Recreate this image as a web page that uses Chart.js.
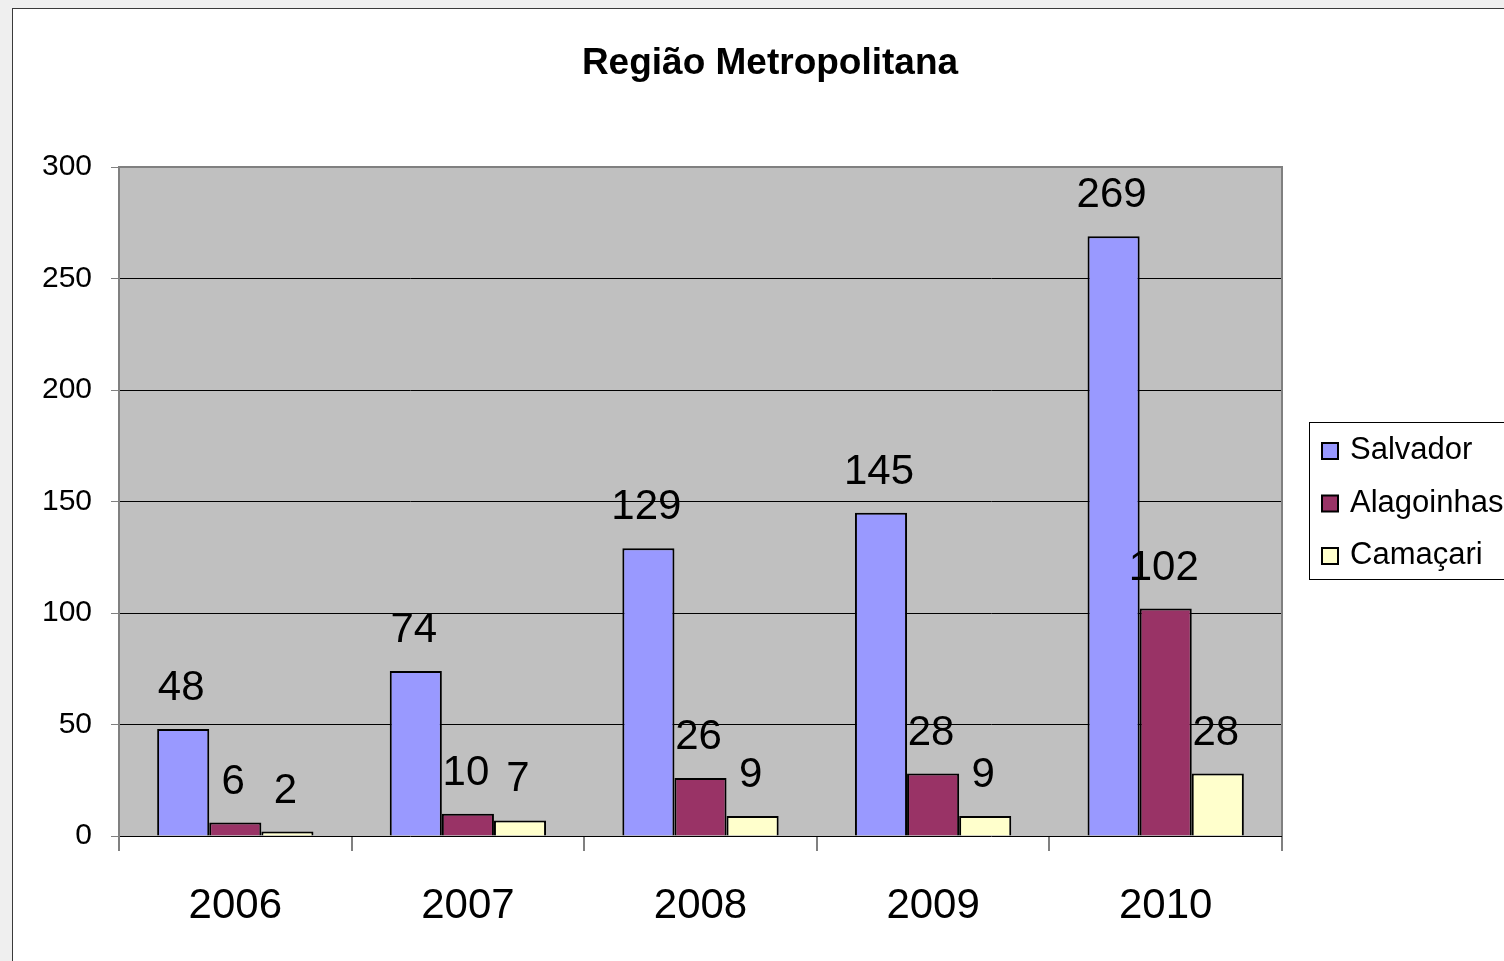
<!DOCTYPE html>
<html>
<head>
<meta charset="utf-8">
<script src="https://cdn.jsdelivr.net/npm/chart.js@4.4.1/dist/chart.umd.min.js"></script>
<style>
  html, body { margin:0; padding:0; width:1504px; height:961px; overflow:hidden; background:#efefef; }
  #frame { position:absolute; left:12px; top:8px; width:1600px; height:1000px; border:1px solid #3a3a3a; background:#ffffff; }
  #wrap { position:absolute; left:0; top:0; width:1540px; height:961px; }
</style>
</head>
<body>
<div id="frame"></div>
<div id="wrap"><canvas id="c" width="1540" height="961"></canvas></div>
<script>
const categories = ['2006', '2007', '2008', '2009', '2010'];
const seriesNames = ['Salvador', 'Alagoinhas', 'Camaçari'];
const salvador = [48, 74, 129, 145, 269];
const alagoinhas = [6, 10, 26, 28, 102];
const camacari = [2, 7, 9, 9, 28];
const yTicks = [0, 50, 100, 150, 200, 250, 300];
const titleText = 'Região Metropolitana';

const colors = ['#9999FF', '#993366', '#FFFFCC'];
const FONT = "'Liberation Sans', Arial, sans-serif";

const plotBg = {
  id: 'plotBg',
  beforeDraw(chart) {
    const a = chart.chartArea, ctx = chart.ctx;
    ctx.save();
    ctx.fillStyle = '#C0C0C0';
    ctx.fillRect(a.left, a.top, a.right - a.left, a.bottom - a.top);
    ctx.restore();
  },
  afterDraw(chart) {
    const a = chart.chartArea, ctx = chart.ctx;
    ctx.save();
    ctx.strokeStyle = '#808080';
    ctx.lineWidth = 2;
    ctx.beginPath();
    ctx.moveTo(a.left, a.top); ctx.lineTo(a.right, a.top); ctx.lineTo(a.right, a.bottom);
    ctx.stroke();
    ctx.restore();
  }
};

const valueLabels = {
  id: 'valueLabels',
  afterDatasetsDraw(chart) {
    const ctx = chart.ctx;
    ctx.save();
    ctx.font = '42px ' + FONT;
    ctx.fillStyle = '#000';
    ctx.textAlign = 'center';
    ctx.textBaseline = 'alphabetic';
    chart.data.datasets.forEach((ds, i) => {
      chart.getDatasetMeta(i).data.forEach((bar, j) => {
        ctx.fillText(String(ds.data[j]), bar.x - 2, bar.y - 29);
      });
    });
    ctx.restore();
  }
};

const boxLegend = {
  id: 'boxLegend',
  afterDraw(chart) {
    const ctx = chart.ctx;
    ctx.save();
    ctx.fillStyle = '#ffffff';
    ctx.fillRect(1309, 422, 260, 157);
    ctx.strokeStyle = '#000';
    ctx.lineWidth = 1;
    ctx.strokeRect(1309.5, 422.5, 260, 157);
    ctx.font = '31px ' + FONT;
    ctx.textAlign = 'left';
    ctx.textBaseline = 'alphabetic';
    chart.data.datasets.forEach((ds, i) => {
      const cy = 451 + i * 52.5;
      ctx.fillStyle = ds.backgroundColor;
      ctx.fillRect(1322, cy - 8, 16, 16);
      ctx.strokeStyle = '#000';
      ctx.lineWidth = 2;
      ctx.strokeRect(1322, cy - 8, 16, 16);
      ctx.fillStyle = '#000';
      ctx.fillText(ds.label, 1350, cy + 8);
    });
    ctx.restore();
  }
};

new Chart(document.getElementById('c'), {
  type: 'bar',
  data: {
    labels: categories,
    datasets: [
      { label: seriesNames[0], data: salvador, backgroundColor: colors[0] },
      { label: seriesNames[1], data: alagoinhas, backgroundColor: colors[1] },
      { label: seriesNames[2], data: camacari, backgroundColor: colors[2] }
    ].map(d => Object.assign(d, { borderColor: '#000', borderWidth: 2, borderSkipped: 'start', categoryPercentage: 0.672, barPercentage: 1.0 }))
  },
  options: {
    responsive: false,
    animation: false,
    layout: { padding: 0 },
    plugins: {
      legend: { display: false },
      tooltip: { enabled: false },
      title: {
        display: true,
        text: titleText,
        color: '#000',
        font: { family: FONT, size: 37, weight: 'bold', lineHeight: 1.2 },
        padding: { top: 42, bottom: 80.6 }
      }
    },
    scales: {
      x: {
        grid: { display: true, drawOnChartArea: false, drawTicks: true, tickLength: 15, tickColor: '#808080', offset: true, lineWidth: 2 },
        border: { display: false },
        ticks: { color: '#000', font: { family: FONT, size: 42 }, padding: 30 },
        afterFit(s) { s.height = 125; }
      },
      y: {
        min: 0, max: 300,
        afterBuildTicks(s) { s.ticks = yTicks.map(v => ({ value: v })); },
        grid: {
          color: ctx => (ctx.tick && ctx.tick.value === 300) ? '#808080' : '#000',
          lineWidth: 1, tickLength: 8, tickColor: '#808080'
        },
        border: { display: true, color: '#808080', width: 2 },
        ticks: { color: '#000', font: { family: FONT, size: 30 }, padding: 19 },
        afterFit(s) { s.width = 119; }
      },
      pad: {
        type: 'linear', position: 'right', display: true,
        ticks: { display: false }, grid: { display: false }, border: { display: false },
        afterFit(s) { s.width = 258; }
      }
    }
  },
  plugins: [plotBg, valueLabels, boxLegend]
});
</script>
</body>
</html>
